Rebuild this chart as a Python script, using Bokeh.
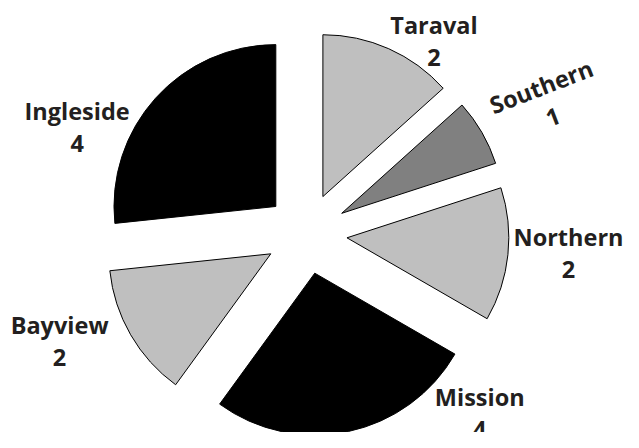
import numpy as np
from bokeh.plotting import figure
from bokeh.models import Range1d, ColumnDataSource
from bokeh.core.properties import value
from bokeh.embed import file_html
from bokeh.resources import INLINE

# ---- data ----
districts = ["Taraval", "Southern", "Northern", "Mission", "Bayview", "Ingleside"]
counts = [2, 1, 2, 4, 2, 4]
colors = ["#bfbfbf", "#808080", "#bfbfbf", "#000000", "#bfbfbf", "#000000"]

# ---- layout (label block centres relative to pie centre, in reference px) ----
label_dx = [131, 247, 269, 178, -253, -235]
label_dy = [200, 137, -20, -186, -111, 110]
label_rot = [0, 21, 0, 0, 0, 0]

R = 166       # radius
EXPLODE = 42  # explode distance
CX, CY = 313.6, 241.7  # pie centre in the 639x448 reference frame
REF_W, REF_H = 639, 448

W, H = 623, 432
p = figure(width=W, height=H, output_backend="svg", toolbar_location=None,
           x_range=Range1d(-CX, REF_W - CX),
           y_range=Range1d(CY - REF_H, CY),
           min_border=0, outline_line_color=None, background_fill_color="white",
           border_fill_color="white")
p.axis.visible = False
p.grid.visible = False

vals = np.array(counts, dtype=float)
frac = vals / vals.sum()
cum = np.concatenate([[0], np.cumsum(frac)])
theta1 = cum[:-1] * 2 * np.pi  # clockwise from 12 o'clock
theta2 = cum[1:] * 2 * np.pi
mid = (theta1 + theta2) / 2
ax = EXPLODE * np.sin(mid)
ay = EXPLODE * np.cos(mid)

src = ColumnDataSource(dict(
    x=ax, y=ay,
    start=np.pi / 2 - theta2, end=np.pi / 2 - theta1,
    color=colors,
))
p.wedge(x="x", y="y", radius=R, start_angle="start", end_angle="end",
        direction="anticlock", fill_color="color", line_color="#000000",
        line_width=1, source=src)

labels = [f"{d}\n{c}" for d, c in zip(districts, counts)]
lsrc = ColumnDataSource(dict(
    x=label_dx, y=label_dy, text=labels,
    angle=[np.deg2rad(a) for a in label_rot],
))
p.text(x="x", y="y", text="text", angle="angle", source=lsrc,
       text_font=value("Open Sans"), text_font_style="bold",
       text_font_size="23.5px", text_color="#231f20",
       text_align="center", text_baseline="middle", text_line_height=1.0)

open("out.html", "w").write(file_html(p, INLINE))
